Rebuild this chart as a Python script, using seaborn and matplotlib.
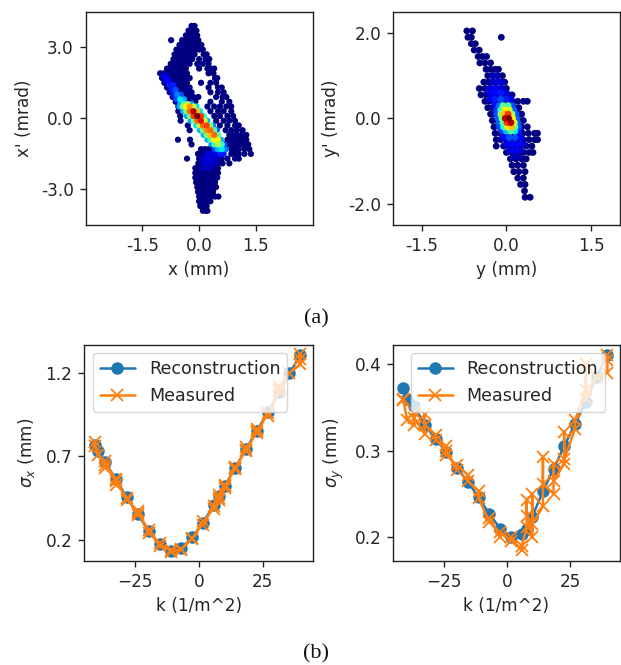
import matplotlib
matplotlib.use("Agg")
import matplotlib.pyplot as plt
import pandas as pd
import seaborn as sns

sns.set_style("ticks")
plt.rcParams["font.family"] = ["DejaVu Sans"]

# ----------------------------------------------------------------------
# Phase space x-x': body of the distribution, one row per x' level
# ----------------------------------------------------------------------
xx_body_y = [3.9, 3.7, 3.5, 3.3, 3.1, 2.9, 2.7, 2.5, 2.3, 2.1, 1.9, 1.7, 1.5, 1.3, 1.1, 0.9, 0.7, 0.5, 0.3, 0.1,
             -0.1, -0.3, -0.5, -0.7, -0.9, -1.1, -1.3, -1.5, -1.7, -1.9, -2.1, -2.3, -2.5, -2.7, -2.9, -3.1,
             -3.3, -3.5, -3.7, -3.9]
xx_body_x = [
    [-0.2, -0.12],
    [-0.28, -0.17, -0.07],
    [-0.35, -0.25, -0.15, -0.05],
    [-0.74, -0.45, -0.33, -0.22, -0.1, -0.02],
    [-0.52, -0.42, -0.32, -0.22, -0.12, -0.02, 0.06],
    [-0.6, -0.5, -0.4, -0.3, -0.2, -0.1, 0.0, 0.1],
    [-0.65, -0.55, -0.45, -0.35, -0.25, -0.12, 0.12, 0.2],
    [-0.68, -0.58, -0.48, -0.38, -0.28, -0.18, 0.0, 0.17, 0.27],
    [-0.75, -0.65, -0.55, -0.45, -0.35, -0.25, -0.05, 0.1, 0.25],
    [-0.85, -0.75, -0.65, -0.55, -0.45, -0.35, 0.0, 0.22, 0.3, 0.4],
    [-1.03, -0.93, -0.83, -0.73, -0.63, -0.53, -0.43, -0.32, 0.25, 0.38],
    [-0.98, -0.88, -0.78, -0.68, -0.58, -0.48, -0.38, -0.25, 0.42, 0.48],
    [-0.92, -0.82, -0.72, -0.62, -0.52, -0.42, -0.32, 0.05, 0.3, 0.45],
    [-0.85, -0.75, -0.65, -0.55, -0.45, -0.35, -0.25, 0.25, 0.5, 0.6],
    [-0.78, -0.68, -0.58, -0.48, -0.38, -0.28, -0.2, 0.3, 0.5, 0.65],
    [-0.7, -0.55, -0.42, -0.28, -0.15, -0.02, 0.45, 0.62, 0.72],
    [-0.62, -0.5, -0.38, -0.25, -0.1, 0.3, 0.6, 0.8],
    [-0.55, -0.42, 0.22, 0.4, 0.55, 0.72, 0.85],
    [-0.55, 0.3, 0.5, 0.65, 0.85],
    [-0.5, 0.4, 0.55, 0.75, 0.9],
    [-0.49, 0.45, 0.65, 0.8, 0.95],
    [-0.3, 0.55, 0.75, 0.95, 1.0, 1.05],
    [-0.25, 0.7, 0.85, 1.0, 1.15],
    [0.8, 0.9, 1.0, 1.12, 1.25],
    [-0.56, -0.24, 0.75, 0.85, 0.95, 1.05, 1.15, 1.25],
    [-0.2, 0.55, 0.7, 0.8, 0.9, 1.0, 1.1, 1.22, 1.3],
    [0.05, 0.15, 0.25, 0.35, 0.7, 0.85, 0.95, 1.05, 1.2, 1.33],
    [-0.03, 0.07, 0.17, 0.27, 0.37, 0.47, 0.57, 0.85, 0.95, 1.05, 1.2, 1.37],
    [-0.32, 0.0, 0.1, 0.2, 0.3, 0.4, 0.5, 0.6, 0.75, 0.95, 1.05],
    [-0.02, 0.08, 0.18, 0.28, 0.38, 0.5, 0.62, 0.8],
    [-0.1, 0.0, 0.1, 0.2, 0.3, 0.4, 0.5],
    [-0.1, 0.0, 0.1, 0.2, 0.3, 0.4, 0.5],
    [-0.1, 0.0, 0.1, 0.2, 0.3, 0.4, 0.48],
    [-0.08, 0.02, 0.12, 0.22, 0.32, 0.42],
    [-0.05, 0.05, 0.15, 0.25, 0.35, 0.45],
    [-0.03, 0.07, 0.17, 0.27, 0.37],
    [0.0, 0.1, 0.2, 0.3, 0.42, 0.51],
    [0.0, 0.1, 0.2, 0.3],
    [0.03, 0.13, 0.2],
    [0.1, 0.18, 0.22],
]

# dense ridge: x positions and relative density on each x' level
xx_core_y = [1.8, 1.6, 1.4, 1.2, 1.0, 0.8, 0.6, 0.5, 0.3, 0.1, -0.1, -0.3, -0.5, -0.7, -0.9, -1.1, -1.3, -1.5,
             -1.7, -1.9, -2.1]
xx_core_x = [
    [-0.95, -0.88],
    [-0.88, -0.8],
    [-0.78, -0.68],
    [-0.72, -0.62],
    [-0.68, -0.58, -0.48],
    [-0.6, -0.5, -0.4],
    [-0.5, -0.4, -0.3, -0.2],
    [-0.52, -0.43, -0.35, -0.25, -0.15, -0.07],
    [-0.42, -0.34, -0.25, -0.15, -0.05, 0.03],
    [-0.33, -0.24, -0.15, -0.05, 0.05, 0.13],
    [-0.22, -0.14, -0.05, 0.05, 0.15, 0.22],
    [-0.08, 0.0, 0.1, 0.2, 0.3, 0.37],
    [0.02, 0.1, 0.2, 0.3, 0.4, 0.47],
    [0.12, 0.2, 0.3, 0.4, 0.5],
    [0.22, 0.3, 0.4, 0.5, 0.58],
    [0.33, 0.4, 0.5, 0.6, 0.67],
    [0.42, 0.5, 0.6, 0.7],
    [0.2, 0.3, 0.4, 0.55, 0.65],
    [0.1, 0.2, 0.3, 0.4, 0.5],
    [0.1, 0.2, 0.3, 0.4],
    [0.1, 0.2, 0.3],
]
xx_core_d = [
    [0.08, 0.08],
    [0.1, 0.12],
    [0.15, 0.15],
    [0.15, 0.2],
    [0.15, 0.25, 0.2],
    [0.2, 0.35, 0.3],
    [0.3, 0.45, 0.55, 0.3],
    [0.3, 0.5, 0.65, 0.75, 0.6, 0.35],
    [0.3, 0.5, 0.8, 0.95, 0.7, 0.35],
    [0.3, 0.5, 0.85, 1.0, 0.85, 0.4],
    [0.3, 0.5, 0.8, 0.9, 0.6, 0.3],
    [0.35, 0.55, 0.8, 0.85, 0.5, 0.25],
    [0.3, 0.5, 0.75, 0.8, 0.45, 0.2],
    [0.3, 0.5, 0.7, 0.8, 0.45],
    [0.3, 0.45, 0.65, 0.65, 0.3],
    [0.25, 0.4, 0.55, 0.4, 0.2],
    [0.2, 0.3, 0.35, 0.25],
    [0.06, 0.08, 0.08, 0.15, 0.15],
    [0.06, 0.08, 0.08, 0.06, 0.05],
    [0.05, 0.07, 0.07, 0.05],
    [0.05, 0.05, 0.05],
]

# ----------------------------------------------------------------------
# Phase space y-y'
# ----------------------------------------------------------------------
yy_body_y = [2.05, 1.9, 1.75, 1.6, 1.45, 1.3, 1.15, 1.0, 0.85, 0.7, 0.55, 0.4, 0.25, 0.1, -0.05, -0.2, -0.35,
             -0.5, -0.65, -0.8, -0.95, -1.1, -1.25, -1.4, -1.55, -1.7, -1.85]
yy_body_x = [
    [-0.7, -0.6],
    [-0.68, -0.62, -0.09],
    [-0.62, -0.55],
    [-0.57, -0.48],
    [-0.5, -0.42, -0.35],
    [-0.47, -0.38, -0.28],
    [-0.36, -0.28, -0.2, -0.14],
    [-0.33, -0.24, -0.15, -0.07],
    [-0.4, -0.32, -0.22, -0.12, -0.03],
    [-0.48, -0.38, -0.28, -0.18, -0.08, 0.0],
    [-0.45, -0.36, -0.26, -0.16, -0.06, 0.04, 0.1],
    [-0.38, -0.3, -0.2, -0.1, 0.0, 0.1, 0.2, 0.3, 0.37],
    [-0.33, -0.25, -0.15, -0.05, 0.05, 0.15, 0.22],
    [-0.28, -0.2, -0.1, 0.0, 0.1, 0.2, 0.27],
    [-0.25, -0.17, -0.07, 0.03, 0.13, 0.23, 0.3],
    [-0.22, -0.13, -0.03, 0.07, 0.17, 0.27, 0.37],
    [-0.2, -0.11, -0.01, 0.09, 0.19, 0.29, 0.39, 0.5, 0.55],
    [-0.18, -0.1, 0.0, 0.1, 0.2, 0.3, 0.4, 0.5, 0.55],
    [-0.18, -0.05, 0.05, 0.15, 0.25, 0.35, 0.45],
    [0.0, 0.1, 0.2, 0.3, 0.4, 0.47],
    [0.07, 0.17, 0.27, 0.35],
    [0.1, 0.2, 0.3],
    [0.13, 0.22, 0.33],
    [0.2, 0.3],
    [0.25, 0.33],
    [0.32],
    [0.33, 0.42],
]

yy_core_y = [1.0, 0.85, 0.7, 0.6, 0.45, 0.3, 0.2, 0.1, 0.0, -0.1, -0.2, -0.3, -0.45, -0.6, -0.75, -0.9]
yy_core_x = [
    [-0.25, -0.17],
    [-0.25, -0.15, -0.07],
    [-0.3, -0.2, -0.1],
    [-0.3, -0.2, -0.1, 0.0],
    [-0.28, -0.2, -0.1, 0.0, 0.08],
    [-0.2, -0.13, -0.06, 0.03, 0.1],
    [-0.17, -0.1, -0.03, 0.05, 0.13],
    [-0.17, -0.1, -0.04, 0.03, 0.1, 0.17],
    [-0.15, -0.08, -0.02, 0.04, 0.11, 0.18],
    [-0.13, -0.06, 0.01, 0.08, 0.14, 0.2],
    [-0.12, -0.05, 0.02, 0.09, 0.15, 0.22],
    [-0.08, 0.0, 0.08, 0.15, 0.22],
    [-0.05, 0.05, 0.15, 0.25],
    [0.0, 0.1, 0.2, 0.3],
    [0.05, 0.15, 0.25],
    [0.12, 0.22],
]
yy_core_d = [
    [0.05, 0.05],
    [0.06, 0.08, 0.06],
    [0.08, 0.1, 0.08],
    [0.1, 0.13, 0.15, 0.1],
    [0.1, 0.15, 0.2, 0.15, 0.1],
    [0.13, 0.22, 0.45, 0.45, 0.2],
    [0.18, 0.4, 0.65, 0.6, 0.22],
    [0.2, 0.5, 0.7, 0.85, 0.55, 0.2],
    [0.22, 0.5, 0.95, 1.0, 0.65, 0.22],
    [0.22, 0.45, 0.85, 0.95, 0.6, 0.22],
    [0.2, 0.38, 0.65, 0.7, 0.45, 0.2],
    [0.18, 0.32, 0.45, 0.35, 0.15],
    [0.13, 0.2, 0.2, 0.12],
    [0.1, 0.13, 0.13, 0.08],
    [0.08, 0.1, 0.08],
    [0.05, 0.05],
]

# ----------------------------------------------------------------------
# Quad scan
# ----------------------------------------------------------------------
k_recon = [-41, -39.5, -36.8, -32.6, -28.3, -24.1, -19.8, -15.5, -11.2, -7, -2.7, 1.5, 5.8, 7.8, 10, 14.2, 18.4,
           22.6, 26.9, 31.2, 35.4, 39.7]
sx_recon = [0.77, 0.733, 0.663, 0.561, 0.453, 0.354, 0.254, 0.174, 0.132, 0.148, 0.214, 0.302, 0.408, 0.46, 0.521,
            0.631, 0.743, 0.853, 0.962, 1.082, 1.196, 1.306]
sy_recon = [0.372, 0.36, 0.3515, 0.33, 0.314, 0.298, 0.28, 0.264, 0.246, 0.227, 0.21, 0.2, 0.204, 0.21, 0.224,
            0.253, 0.279, 0.305, 0.331, 0.356, 0.385, 0.411]

k_meas = [-41, -41, -39.5, -36.8, -36.8, -36.8, -32.6, -32.6, -32.6, -28.3, -28.3, -24.1, -24.1, -24.1, -19.8,
          -19.8, -15.5, -15.5, -11.2, -11.2, -7, -7, -2.7, -2.7, 1.5, 1.5, 5.8, 5.8, 7.8, 7.8, 7.8, 10, 10, 10,
          14.2, 14.2, 14.2, 18.4, 18.4, 18.4, 22.6, 22.6, 22.6, 26.9, 26.9, 31.2, 31.2, 31.2, 35.4, 39.7, 39.7,
          39.7]
sx_meas = [0.785, 0.76, 0.71, 0.67, 0.63, 0.65, 0.565, 0.53, 0.55, 0.45, 0.44, 0.37, 0.345, 0.36, 0.26,
           0.24, 0.18, 0.165, 0.14, 0.125, 0.145, 0.14, 0.21, 0.205, 0.31, 0.29, 0.4, 0.385, 0.44, 0.47, 0.45, 0.51,
           0.53, 0.52, 0.63, 0.625, 0.635, 0.74, 0.755, 0.73, 0.85, 0.86, 0.84, 0.96, 0.94, 1.09, 1.12, 1.1, 1.2,
           1.25, 1.31, 1.28]
sy_meas = [0.36, 0.358, 0.335, 0.33, 0.345, 0.338, 0.319, 0.342, 0.33, 0.318, 0.312, 0.305, 0.295, 0.3, 0.278,
           0.283, 0.272, 0.265, 0.253, 0.245, 0.218, 0.222, 0.2, 0.206, 0.196, 0.2, 0.185, 0.19, 0.212, 0.243, 0.225,
           0.2, 0.25, 0.215, 0.236, 0.293, 0.262, 0.25, 0.285, 0.265, 0.285, 0.322, 0.29, 0.325, 0.335, 0.37, 0.4,
           0.36, 0.385, 0.39, 0.41, 0.405]


def phase_frame(body_y, body_x, core_y, core_x, core_d):
    # expand the per-row lists into one long table, low density first
    rows = []
    for yy, xs in zip(body_y, body_x):
        rows += [(x, yy, 0.0) for x in xs]
    for yy, xs, ds in zip(core_y, core_x, core_d):
        rows += [(x, yy, d) for x, d in zip(xs, ds)]
    df = pd.DataFrame(rows, columns=["x", "y", "density"])
    return df.sort_values("density")


def px_axes(fig, left, right, top, bottom):
    W, H = 621, 665
    return fig.add_axes([left / W, 1 - bottom / H, (right - left) / W, (bottom - top) / H])


def style_axes(ax, xticks, xticklabels, yticks, yticklabels, xlabel, ylabel, xlim, ylim):
    ax.set_xlim(xlim)
    ax.set_ylim(ylim)
    ax.set_xticks(xticks, xticklabels)
    ax.set_yticks(yticks, yticklabels)
    ax.set_xlabel(xlabel, fontsize=fsize, labelpad=4.5)
    ax.set_ylabel(ylabel, fontsize=fsize, labelpad=6)
    ax.tick_params(labelsize=fsize, length=4, width=1.0, color="#222222", pad=4.5)
    for s in ax.spines.values():
        s.set_linewidth(1.0)
        s.set_color("#222222")
        s.set_visible(True)


fsize = 12.2
jet = plt.get_cmap("jet")
fig = plt.figure(figsize=(6.21, 6.65), dpi=100)

ax1 = px_axes(fig, 85.7, 312.5, 11.7, 225)
sns.scatterplot(data=phase_frame(xx_body_y, xx_body_x, xx_core_y, xx_core_x, xx_core_d), x="x", y="y",
                hue="density", palette=jet, hue_norm=(0, 1), s=20, linewidth=0, legend=False, ax=ax1)
style_axes(ax1, [-1.5, 0, 1.5], ["-1.5", "0.0", "1.5"], [-3, 0, 3], ["-3.0", "0.0", "3.0"],
           "x (mm)", "x' (mrad)", (-3, 3), (-4.5, 4.5))

ax2 = px_axes(fig, 393.3, 619.5, 11.7, 225)
sns.scatterplot(data=phase_frame(yy_body_y, yy_body_x, yy_core_y, yy_core_x, yy_core_d), x="x", y="y",
                hue="density", palette=jet, hue_norm=(0, 1), s=24, linewidth=0, legend=False, ax=ax2)
style_axes(ax2, [-1.5, 0, 1.5], ["-1.5", "0.0", "1.5"], [-2, 0, 2], ["-2.0", "0.0", "2.0"],
           "y (mm)", "y' (mrad)", (-2, 2), (-2.5, 2.5))

for box, recon, meas, ytk, ylab, ylim, leg_x in [
    ((84.3, 312.7), sx_recon, sx_meas, [0.2, 0.7, 1.2], r"$\sigma_x$ (mm)", (0.0725, 1.366), 0.037),
    ((393.3, 619.5), sy_recon, sy_meas, [0.2, 0.3, 0.4], r"$\sigma_y$ (mm)", (0.1727, 0.422), 0.077),
]:
    ax = px_axes(fig, box[0], box[1], 345, 561)
    sns.lineplot(x=k_recon, y=recon, color="#1f77b4", marker="o", markersize=9, markeredgewidth=0, linewidth=1.8,
                 estimator=None, sort=False, label="Reconstruction", ax=ax)
    sns.lineplot(x=k_meas, y=meas, color="#ff7f0e", marker="x", markersize=8, markeredgewidth=1.3,
                 markeredgecolor="#ff7f0e", linewidth=1.8, estimator=None, sort=False, label="Measured", ax=ax)
    style_axes(ax, [-25, 0, 25], ["\u221225", "0", "25"], ytk, [f"{v:.1f}" for v in ytk],
               "k (1/m^2)", ylab, (-45, 44.5), ylim)
    ax.legend(loc="upper left", bbox_to_anchor=(leg_x, 0.963), borderaxespad=0, fontsize=12.6, frameon=True,
              framealpha=0.8, edgecolor="#cccccc", fancybox=True)

fig.text(316 / 621, 1 - 319 / 665, "(a)", family="Liberation Serif", fontsize=16, ha="center", va="center",
         color="#111111")
fig.text(316 / 621, 1 - 654 / 665, "(b)", family="Liberation Serif", fontsize=16, ha="center", va="center",
         color="#111111")

fig.savefig("out.png", dpi=100)
